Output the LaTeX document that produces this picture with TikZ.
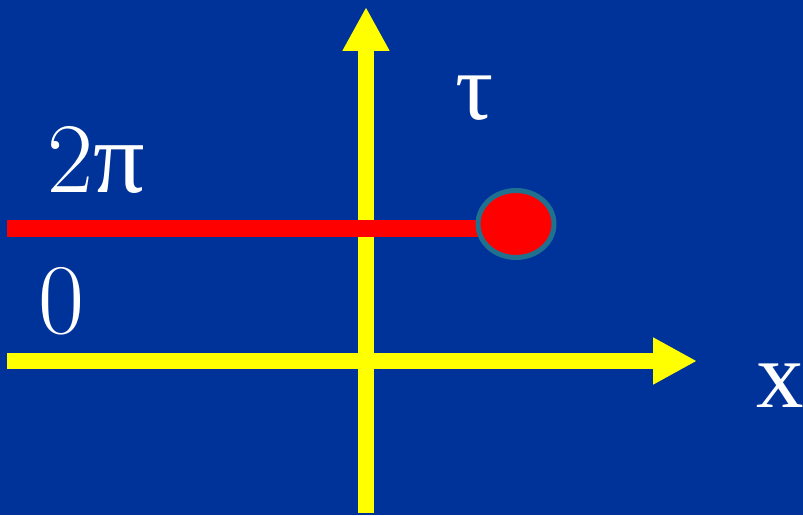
\documentclass[tikz,border=0pt]{standalone}
\usepackage{fontspec}
\newfontfamily\timesf{Liberation Serif}
\usetikzlibrary{arrows.meta,shapes.geometric}
\definecolor{bgblue}{RGB}{0,51,153}
\definecolor{axisyellow}{RGB}{255,255,0}
\definecolor{dotred}{RGB}{255,0,0}
\definecolor{dotedge}{RGB}{32,112,144}
\tikzset{
  axisline/.style={draw=axisyellow, line width=15.5pt, line cap=butt,
    -{Triangle[width=44pt,length=44pt]}},
  redline/.style={draw=dotred, line width=17pt, line cap=butt},
  dotnode/.style={ellipse, fill=dotred, draw=dotedge, line width=5pt,
    minimum width=76pt, minimum height=67pt, inner sep=0pt},
  lbl/.style={text=white, inner sep=0pt, anchor=base, font=\fontsize{100}{100}\selectfont},
  lblt/.style={text=white, inner sep=0pt, anchor=base, font=\timesf\fontsize{95}{95}\selectfont}
}
\begin{document}
\begin{tikzpicture}[x=1pt,y=1pt]
\fill[bgblue] (0,0) rectangle (803,515);
\useasboundingbox (0,0) rectangle (803,515);
% coordinates
\coordinate (hstart) at (7,154);
\coordinate (htip) at (697,154);
\coordinate (vstart) at (366,2);
\coordinate (vtip) at (366,508);
\coordinate (rstart) at (7,286.5);
\coordinate (dotc) at (516,291);
% axes
\draw[axisline] (hstart) -- (htip);
\draw[axisline] (vstart) -- (vtip);
% red line and dot
\draw[redline] (rstart) -- (rstart -| dotc);
\node[dotnode] (dot) at (dotc) {};
% labels
\node[lbl] (twopi) at (96,323) {2{\timesf\fontsize{102}{102}\selectfont π}};
\node[lbl] (zero) at (61.5,182) {0};
\node[lblt] (tau) at (475,395) {τ};
\node[lblt] (xlab) at (780,108) {x};
\end{tikzpicture}
\end{document}
